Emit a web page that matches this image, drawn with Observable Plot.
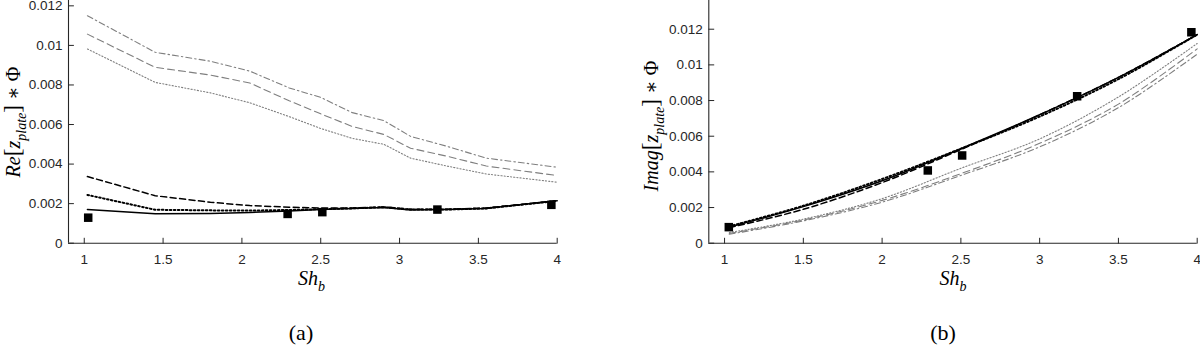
<!DOCTYPE html>
<html>
<head>
<meta charset="utf-8">
<script src="https://cdn.jsdelivr.net/npm/d3@7"></script>
<script src="https://cdn.jsdelivr.net/npm/@observablehq/plot@0.6"></script>
<style>
  html, body { margin: 0; padding: 0; background: #fff; }
  #wrap { width: 1200px; height: 348px; display: flex; overflow: hidden; }
  #wrap svg { display: block; }
  #wrap svg text { font-family: "Liberation Sans", Arial, sans-serif; }
  #wrap svg text.tex, #wrap svg text.tex tspan { font-family: "Liberation Serif", "DejaVu Serif", serif; }
</style>
</head>
<body>
<div id="wrap"></div>
<script>
// ---------- data: panel (a) Re[z_plate]*Phi ----------
const shA = [1.02, 1.45, 1.8, 2.05, 2.3, 2.5, 2.7, 2.9, 3.07, 3.3, 3.55, 4.0];
const aGrayDashDot = [0.0115, 0.00965, 0.0092, 0.0087, 0.00785, 0.00737, 0.0066, 0.0062, 0.0054, 0.0049, 0.0043, 0.00384];
const aGrayDashed  = [0.01057, 0.00889, 0.0085, 0.0081, 0.0072, 0.00654, 0.0059, 0.0055, 0.0048, 0.0044, 0.0039, 0.00342];
const aGrayDotted  = [0.00982, 0.00813, 0.0076, 0.0071, 0.0064, 0.0058, 0.0053, 0.0050, 0.0043, 0.0039, 0.0035, 0.00308];
const aBlackDashed = [0.00337, 0.0024, 0.00207, 0.0019, 0.00182, 0.00178, 0.00178, 0.00183, 0.00172, 0.00172, 0.00178, 0.00215];
const aBlackDotted = [0.00244, 0.00169, 0.00166, 0.00165, 0.00168, 0.00172, 0.00176, 0.00182, 0.0017, 0.0017, 0.00176, 0.00214];
const aBlackSolid  = [0.0017, 0.00149, 0.0015, 0.00155, 0.00163, 0.0017, 0.00175, 0.0018, 0.00168, 0.0017, 0.00176, 0.00215];
const aExpSh = [1.025, 2.29, 2.51, 3.24, 3.963];
const aExpVal = [0.00129, 0.00148, 0.00157, 0.0017, 0.00194];

// ---------- data: panel (b) Imag[z_plate]*Phi ----------
const shB = [1.03, 1.5, 2.0, 2.5, 3.0, 3.5, 4.0];
const bBlackSolid  = [0.0009, 0.00205, 0.0035, 0.0053, 0.0072, 0.0093, 0.0117];
const bBlackDashed = [0.00087, 0.0019, 0.0034, 0.00525, 0.0072, 0.0093, 0.0117];
const bBlackDotted = [0.00095, 0.0021, 0.0036, 0.0053, 0.0071, 0.0092, 0.0117];
const bGrayDotted  = [0.0006, 0.00135, 0.0025, 0.0042, 0.00585, 0.0082, 0.0112];
const bGrayDashed  = [0.00055, 0.0013, 0.0024, 0.0039, 0.0056, 0.0078, 0.0109];
const bGrayDashDot = [0.0005, 0.00125, 0.0023, 0.0038, 0.0054, 0.0076, 0.0106];
const bExpSh = [1.027, 2.29, 2.508, 3.238, 3.963];
const bExpVal = [0.0009, 0.00408, 0.00492, 0.00824, 0.01183];

// ---------- ticks ----------
const xTicks = [1, 1.5, 2, 2.5, 3, 3.5, 4];
const yTicks = [0, 0.002, 0.004, 0.006, 0.008, 0.01, 0.012];

// ---------- styles ----------
const GRAY = "#7f7f7f", BLACK = "#000", AX = "#262626";
const styleGrayDashDot = {stroke: GRAY, strokeWidth: 1.1, strokeDasharray: "6,3,1.5,3"};
const styleGrayDashed  = {stroke: GRAY, strokeWidth: 1.1, strokeDasharray: "7,4"};
const styleGrayDotted  = {stroke: GRAY, strokeWidth: 1.1, strokeDasharray: "1.2,2"};
const styleBlackSolid  = {stroke: BLACK, strokeWidth: 1.5};
const styleBlackDashed = {stroke: BLACK, strokeWidth: 1.5, strokeDasharray: "6,3.5"};
const styleBlackDotted = {stroke: BLACK, strokeWidth: 2, strokeDasharray: "1.6,2.4"};

const tickShape = { draw(ctx, l) { ctx.moveTo(0, 0); ctx.lineTo(0, -l); } };

function pts(xs, ys) { return xs.map((x, i) => ({x, y: ys[i]})); }

function panel({width, marginLeft, marginRight, yMax, series, expX, expY, curve}) {
  const marks = [];
  for (const [xs, ys, st] of series) {
    marks.push(Plot.line(pts(xs, ys), {x: "x", y: "y", curve, ...st}));
  }
  marks.push(Plot.dot(pts(expX, expY), {x: "x", y: "y", symbol: "square", r: 4.8, fill: BLACK, stroke: null}));
  marks.push(Plot.ruleY([0], {stroke: AX, strokeWidth: 1.1}));
  marks.push(Plot.ruleX([0.9], {stroke: AX, strokeWidth: 1.1}));
  marks.push(Plot.vector(xTicks, {x: d => d, y: d => 0, length: 5, rotate: 0, anchor: "start", shape: tickShape, stroke: AX, strokeWidth: 1}));
  marks.push(Plot.vector(yTicks, {x: d => 0.9, y: d => d, length: 5, rotate: 90, anchor: "start", shape: tickShape, stroke: AX, strokeWidth: 1}));
  marks.push(Plot.axisX(xTicks, {tickSize: 0, tickPadding: 11, tickFormat: d => String(d), fontSize: 13.5, color: AX, label: null}));
  marks.push(Plot.axisY(yTicks, {tickSize: 0, tickPadding: 6, tickFormat: d => String(d), fontSize: 13.5, color: AX, label: null}));
  return Plot.plot({
    width, height: 348,
    marginLeft, marginRight, marginTop: 0, marginBottom: 105.3,
    x: {domain: [0.9, 4], label: null},
    y: {domain: [0, yMax], label: null},
    style: {background: "#fff", overflow: "visible"},
    marks
  });
}

function richText(svg, {x, y, rotate = 0, size, parts, anchor = "middle"}) {
  const t = d3.select(svg).append("text")
    .attr("class", "tex")
    .attr("transform", `translate(${x},${y}) rotate(${rotate})`)
    .attr("text-anchor", anchor)
    .attr("font-size", size)
    .attr("fill", "#000");
  let shifted = 0;
  for (const p of parts) {
    const s = t.append("tspan").text(p.t);
    if (p.i) s.attr("font-style", "italic");
    if (p.big) s.attr("font-size", size * 1.18);
    if (p.sub) {
      s.attr("font-size", size * 0.7).attr("dy", size * 0.28 - shifted);
      shifted = size * 0.28;
    } else if (shifted) {
      s.attr("dy", -shifted);
      shifted = 0;
    }
  }
  return t;
}

const wrap = document.getElementById("wrap");

const svgA = panel({
  width: 600, marginLeft: 68, marginRight: 43.3, yMax: 0.01227, curve: "linear",
  series: [
    [shA, aGrayDashDot, styleGrayDashDot],
    [shA, aGrayDashed, styleGrayDashed],
    [shA, aGrayDotted, styleGrayDotted],
    [shA, aBlackDashed, styleBlackDashed],
    [shA, aBlackDotted, styleBlackDotted],
    [shA, aBlackSolid, styleBlackSolid]
  ],
  expX: aExpSh, expY: aExpVal
});
const svgB = panel({
  width: 600, marginLeft: 108.3, marginRight: 3.3, yMax: 0.01361, curve: "catmull-rom",
  series: [
    [shB, bGrayDashDot, styleGrayDashDot],
    [shB, bGrayDashed, styleGrayDashed],
    [shB, bGrayDotted, styleGrayDotted],
    [shB, bBlackDashed, styleBlackDashed],
    [shB, bBlackDotted, styleBlackDotted],
    [shB, bBlackSolid, styleBlackSolid]
  ],
  expX: bExpSh, expY: bExpVal
});
wrap.appendChild(svgA);
wrap.appendChild(svgB);

const LS = 20;
richText(svgA, {x: 20, y: 122, rotate: -90, size: LS, parts: [
  {t: "Re", i: true}, {t: "[", big: true}, {t: "z", i: true}, {t: "plate", i: true, sub: true}, {t: "]", big: true}, {t: " ∗ Φ"}
]});
richText(svgB, {x: 58, y: 126, rotate: -90, size: LS, parts: [
  {t: "Imag", i: true}, {t: "[", big: true}, {t: "z", i: true}, {t: "plate", i: true, sub: true}, {t: "]", big: true}, {t: " ∗ Φ"}
]});
richText(svgA, {x: 311.5, y: 285, size: LS, parts: [{t: "Sh", i: true}, {t: "b", i: true, sub: true}]});
richText(svgB, {x: 353, y: 285, size: LS, parts: [{t: "Sh", i: true}, {t: "b", i: true, sub: true}]});
richText(svgA, {x: 301, y: 340, size: 22, parts: [{t: "(a)"}]});
richText(svgB, {x: 343, y: 340, size: 22, parts: [{t: "(b)"}]});
</script>
</body>
</html>
